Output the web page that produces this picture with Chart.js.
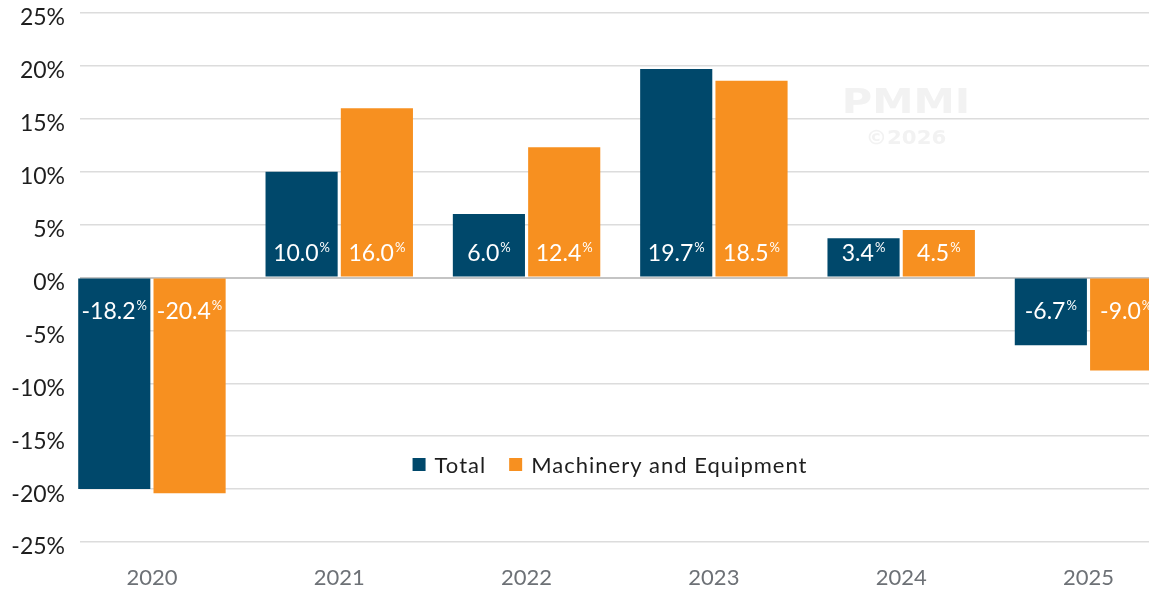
<!DOCTYPE html>
<html lang="en">

<head>
  <meta charset="UTF-8">
  <title>Total vs Machinery and Equipment</title>
  <script src="https://cdn.jsdelivr.net/npm/chart.js@4"></script>
  <style>
    html, body { margin: 0; padding: 0; background: #fff; overflow: hidden; }
  </style>
</head>

<body>
  <canvas id="growthChart" width="1149" height="592"></canvas>

  <script>
    // categories
    const years = [2020, 2021, 2022, 2023, 2024, 2025];

    // bar heights as drawn (%)
    const totalValues = [-20.0, 10.0, 6.0, 19.7, 3.7, -6.4];
    const machineryValues = [-20.4, 16.0, 12.3, 18.6, 4.5, -8.8];

    // value labels as printed inside the bars
    const totalLabels = ['-18.2', '10.0', '6.0', '19.7', '3.4', '-6.7'];
    const machineryLabels = ['-20.4', '16.0', '12.4', '18.5', '4.5', '-9.0'];

    // y axis ticks
    const yTicks = [-25, -20, -15, -10, -5, 0, 5, 10, 15, 20, 25];

    const FONT = 'Lato, "Open Sans", sans-serif';
    const BLUE = '#00486b';
    const ORANGE = '#f79020';

    // labels inside bars: number + small raised %
    const barLabels = {
      id: 'barLabels',
      afterDatasetsDraw(chart) {
        const ctx = chart.ctx;
        const zero = chart.scales.y.getPixelForValue(0);
        const texts = [totalLabels, machineryLabels];
        ctx.save();
        ctx.fillStyle = '#ffffff';
        ctx.textBaseline = 'alphabetic';
        ctx.textAlign = 'left';
        chart.data.datasets.forEach((ds, di) => {
          chart.getDatasetMeta(di).data.forEach((bar, i) => {
            const txt = texts[di][i];
            ctx.font = '23px ' + FONT;
            const w1 = ctx.measureText(txt).width;
            ctx.font = '13px ' + FONT;
            const w2 = ctx.measureText('%').width;
            const x0 = bar.x - (w1 + w2 + 1) / 2;
            const neg = ds.data[i].y < 0;
            const baseY = neg ? zero + 41 : zero - 17;
            ctx.font = '23px ' + FONT;
            ctx.fillText(txt, x0, baseY);
            ctx.font = '13px ' + FONT;
            ctx.fillText('%', x0 + w1 + 1, baseY - 9);
          });
        });
        ctx.restore();
      }
    };

    // legend sitting inside the plot, plus faint watermark
    const extras = {
      id: 'extras',
      beforeDatasetsDraw(chart) {
        const ctx = chart.ctx;
        ctx.save();
        ctx.fillStyle = '#f2f2f2';
        ctx.textAlign = 'center';
        ctx.textBaseline = 'alphabetic';
        ctx.translate(906, 113);
        ctx.scale(1.22, 1);
        ctx.font = 'bold 34px "DejaVu Sans", sans-serif';
        ctx.fillText('PMMI', 0, 0);
        ctx.restore();
        ctx.save();
        ctx.fillStyle = '#f2f2f2';
        ctx.textAlign = 'center';
        ctx.translate(906, 144);
        ctx.scale(1.12, 1);
        ctx.font = 'bold 19px "DejaVu Sans", sans-serif';
        ctx.fillText('©2026', 0, 0);
        ctx.restore();
      },
      afterDatasetsDraw(chart) {
        const ctx = chart.ctx;
        ctx.save();
        ctx.font = '22px ' + FONT;
        ctx.letterSpacing = '1px';
        ctx.textBaseline = 'middle';
        ctx.textAlign = 'left';
        const box = 13, gapText = 9, gapItem = 23;
        const items = chart.data.datasets.map(ds => ({
          label: ds.label, color: ds.backgroundColor, w: ctx.measureText(ds.label).width
        }));
        let total = 0;
        items.forEach((it, k) => { total += box + gapText + it.w + (k ? gapItem : 0); });
        let x = 610 - total / 2;
        const y = 465;
        items.forEach((it, k) => {
          if (k) x += gapItem;
          ctx.fillStyle = it.color;
          ctx.fillRect(x, y - 7, box, box);
          x += box + gapText;
          ctx.fillStyle = '#1e1e1e';
          ctx.fillText(it.label, x, y + 1);
          x += it.w;
        });
        ctx.restore();
      }
    };

    window.onload = function () {
      const ctx = document.getElementById('growthChart').getContext('2d');

      new Chart(ctx, {
        type: 'bar',
        data: {
          datasets: [
            {
              label: 'Total',
              data: years.map((yr, i) => ({ x: yr, y: totalValues[i] })),
              backgroundColor: BLUE,
              categoryPercentage: 0.804,
              barPercentage: 0.958,
              clip: false
            },
            {
              label: 'Machinery and Equipment',
              data: years.map((yr, i) => ({ x: yr, y: machineryValues[i] })),
              backgroundColor: ORANGE,
              categoryPercentage: 0.804,
              barPercentage: 0.958,
              clip: false
            }
          ]
        },
        options: {
          responsive: false,
          animation: false,
          layout: { padding: { top: 13, left: 0, right: 0, bottom: 0 } },
          plugins: {
            legend: { display: false },
            tooltip: { enabled: false }
          },
          scales: {
            x: {
              type: 'linear',
              offset: false,
              min: 2019.616,
              max: 2025.323,
              afterBuildTicks: scale => { scale.ticks = years.map(v => ({ value: v })); },
              afterFit: scale => { scale.height = 50; scale.paddingLeft = 0; scale.paddingRight = 0; },
              grid: { display: false, offset: false },
              border: { display: false },
              ticks: {
                callback: v => String(v),
                color: '#6d7176',
                font: { family: FONT, size: 22 },
                padding: 15,
                maxRotation: 0,
                autoSkip: false
              }
            },
            y: {
              min: -25,
              max: 25,
              afterBuildTicks: scale => { scale.ticks = yTicks.map(v => ({ value: v })); },
              afterFit: scale => { scale.width = 80; scale.paddingTop = 0; scale.paddingBottom = 0; },
              border: { display: false },
              grid: {
                color: ctx => ctx.tick && ctx.tick.value === 0 ? '#c4c4c4' : '#dcdcdc',
                lineWidth: ctx => ctx.tick && ctx.tick.value === 0 ? 2 : 1.5,
                drawTicks: false
              },
              ticks: {
                callback: v => v + '%',
                color: '#1e1e1e',
                font: { family: FONT, size: 23 },
                padding: 15,
                labelOffset: 5
              }
            }
          }
        },
        plugins: [extras, barLabels]
      });
    }
  </script>
</body>

</html>
